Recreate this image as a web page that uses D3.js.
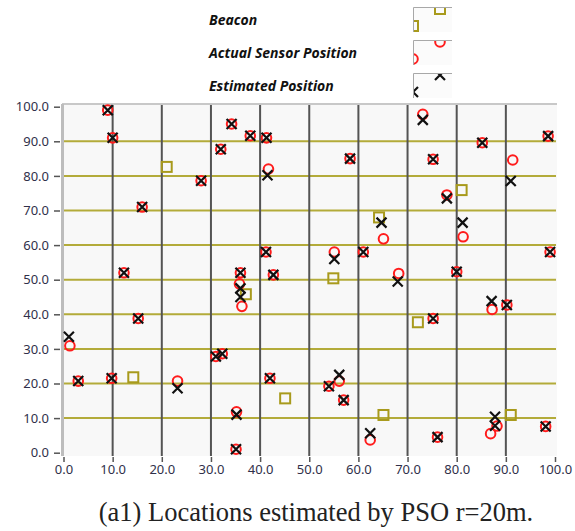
<!DOCTYPE html>
<html>
<head>
<meta charset="utf-8">
<script src="https://cdn.jsdelivr.net/npm/d3@7"></script>
<style>
  body { margin: 0; background: #fff; }
  svg { display: block; }
</style>
</head>
<body>
<svg id="chart" width="575" height="531"></svg>
<script>
// beacon positions
const beaconX = [21, 81, 64.2, 54.9, 37.1, 72.1, 14.2, 45.1, 65.1, 91];
const beaconY = [82.6, 75.9, 68, 50.4, 45.8, 37.7, 21.8, 15.7, 10.9, 10.9];

// actual sensor positions
const sensorX = [9, 10, 16, 12.3, 28, 32, 34.2, 38, 41.3, 41.7, 58.3, 41.2, 42.7, 36, 55.1, 61, 65.1,
  73.1, 85.2, 75.2, 98.6, 91.4, 78, 81.3, 99, 80, 68.2, 1.3, 3, 9.8, 15.2, 23.2, 31, 32.3,
  35.8, 36.3, 42, 35.2, 35.1, 54, 56.1, 57, 62.4, 75.2, 87.2, 90.2, 76.1, 88.2, 86.9, 98.1];
const sensorY = [99, 91, 71, 52, 78.6, 87.7, 95, 91.6, 91, 82, 85, 58, 51.4, 52, 58, 58, 61.8,
  97.8, 89.6, 84.8, 91.5, 84.6, 74.5, 62.4, 58, 52.3, 51.8, 30.9, 20.7, 21.5, 38.8, 20.7, 27.8, 28.6,
  48.8, 42.3, 21.5, 11.8, 1, 19.2, 20.7, 15.2, 3.7, 38.8, 41.4, 42.7, 4.5, 7.7, 5.5, 7.6];

// estimated positions (PSO)
const estX = [9, 10, 16, 12.3, 28, 32, 34.2, 38, 41.3, 41.5, 58.3, 41.2, 42.7, 36, 55.1, 61, 64.7,
  73.1, 85.2, 75.2, 98.6, 91, 78, 81.2, 99, 80, 68, 1.1, 3, 9.8, 15.2, 23.2, 31, 32.3,
  36, 36, 42, 35.2, 35.1, 54, 56.1, 57, 62.4, 75.2, 87.1, 90.2, 76.1, 87.8, 87.8, 98.1];
const estY = [99, 91, 71, 52, 78.6, 87.7, 95, 91.6, 91, 80.2, 85, 58, 51.4, 52, 56, 58, 66.5,
  96.2, 89.6, 84.8, 91.5, 78.5, 73.5, 66.5, 58, 52.3, 49.5, 33.5, 20.7, 21.5, 38.8, 18.6, 27.8, 28.6,
  47.5, 45, 21.5, 11, 1, 19.2, 22.5, 15.2, 5.6, 38.8, 43.8, 42.7, 4.5, 10.4, 7.8, 7.6];

const ticks = d3.range(0, 101, 10);
const legendLabels = ["Beacon", "Actual Sensor Position", "Estimated Position"];

const olive = "#a89a1c";
const gridOlive = "#b3ab3a";
const red = "#ff1c1c";
const labelColor = "#30304a";

const svg = d3.select("#chart");

const x = d3.scaleLinear().domain([0, 100]).range([63.5, 555]);
const y = d3.scaleLinear().domain([0, 100]).range([452.7, 106.7]);

// plot background
svg.append("rect")
  .attr("x", 62).attr("y", 104)
  .attr("width", 495).attr("height", 352)
  .attr("fill", "#f8f8f8");

// horizontal grid (olive)
svg.append("g").selectAll("line")
  .data(ticks.filter(t => t > 0 && t < 100))
  .join("line")
  .attr("x1", 63).attr("x2", 556)
  .attr("y1", d => y(d)).attr("y2", d => y(d))
  .attr("stroke", gridOlive).attr("stroke-width", 2);

// vertical grid (dark gray)
svg.append("g").selectAll("line")
  .data(ticks.filter(t => t > 0 && t < 100))
  .join("line")
  .attr("x1", d => x(d)).attr("x2", d => x(d))
  .attr("y1", 104).attr("y2", 456)
  .attr("stroke", "#545454").attr("stroke-width", 2);

// frame: top and left
svg.append("line").attr("x1", 62).attr("x2", 557).attr("y1", 104).attr("y2", 104)
  .attr("stroke", "#c8c8c8").attr("stroke-width", 2);
svg.append("line").attr("x1", 62.5).attr("x2", 62.5).attr("y1", 104).attr("y2", 456)
  .attr("stroke", "#bdbdbd").attr("stroke-width", 3);

// axes
const yAxis = d3.axisLeft(y).tickValues(ticks).tickFormat(d3.format(".1f")).tickSize(6).tickPadding(5);
const xAxis = d3.axisBottom(x).tickValues(ticks).tickFormat(d3.format(".1f")).tickSize(5).tickPadding(3);

const gy = svg.append("g").attr("transform", "translate(60,0)").call(yAxis);
const gx = svg.append("g").attr("transform", "translate(0,457)").call(xAxis);
[gy, gx].forEach(g => {
  g.select(".domain").remove();
  g.selectAll(".tick line").attr("stroke", "#555").attr("stroke-width", 1.5);
  g.selectAll(".tick text")
    .attr("fill", labelColor)
    .style("font-family", "'Noto Sans', sans-serif")
    .style("font-size", "13px");
});

// markers
const plot = svg.append("g");

plot.selectAll("rect.beacon")
  .data(beaconX.map((d, i) => [d, beaconY[i]]))
  .join("rect")
  .attr("class", "beacon")
  .attr("x", d => x(d[0]) - 5).attr("y", d => y(d[1]) - 5)
  .attr("width", 10).attr("height", 10)
  .attr("fill", "none").attr("stroke", olive).attr("stroke-width", 2);

plot.selectAll("circle.sensor")
  .data(sensorX.map((d, i) => [d, sensorY[i]]))
  .join("circle")
  .attr("class", "sensor")
  .attr("cx", d => x(d[0])).attr("cy", d => y(d[1]))
  .attr("r", 4.8)
  .attr("fill", "none").attr("stroke", red).attr("stroke-width", 2);

const cross = (g, s) => g.append("path")
  .attr("d", `M${-s},${-s}L${s},${s}M${-s},${s}L${s},${-s}`)
  .attr("stroke", "#111").attr("stroke-width", 2.2).attr("fill", "none");

plot.selectAll("g.est")
  .data(estX.map((d, i) => [d, estY[i]]))
  .join("g")
  .attr("class", "est")
  .attr("transform", d => `translate(${x(d[0])},${y(d[1])})`)
  .each(function () { cross(d3.select(this), 5); });

// legend
const legend = svg.append("g");
legendLabels.forEach((label, i) => {
  const top = 7 + i * 33;
  legend.append("text")
    .attr("x", 209).attr("y", top + 18)
    .text(label)
    .style("font-family", "'Noto Sans', sans-serif")
    .style("font-size", "14px")
    .style("font-weight", "bold")
    .style("font-style", "italic")
    .attr("fill", "#111");

  const clipId = "lc" + i;
  svg.append("clipPath").attr("id", clipId)
    .append("rect").attr("x", 414).attr("y", top + 1).attr("width", 38).attr("height", 24);
  const box = legend.append("g");
  box.append("rect").attr("x", 413).attr("y", top).attr("width", 39).attr("height", 25)
    .attr("fill", "#fbfbfb");
  box.append("path").attr("d", `M413.5,${top + 25}V${top + 0.5}H452`)
    .attr("stroke", "#a8a8a8").attr("fill", "none");
  const m = box.append("g").attr("clip-path", `url(#${clipId})`);
  [[440, top + 2], [413, top + 19]].forEach(([cx, cy]) => {
    if (i === 0) {
      m.append("rect").attr("x", cx - 5).attr("y", cy - 5).attr("width", 10).attr("height", 10)
        .attr("fill", "none").attr("stroke", olive).attr("stroke-width", 2);
    } else if (i === 1) {
      m.append("circle").attr("cx", cx).attr("cy", cy).attr("r", 4.8)
        .attr("fill", "none").attr("stroke", red).attr("stroke-width", 2);
    } else {
      cross(m.append("g").attr("transform", `translate(${cx},${cy})`), 5);
    }
  });
});

// caption
svg.append("text")
  .attr("x", 316).attr("y", 521)
  .attr("text-anchor", "middle")
  .text("(a1) Locations estimated by PSO r=20m.")
  .style("font-family", "'Liberation Serif', serif")
  .style("font-size", "26.5px")
  .attr("fill", "#222");
</script>
</body>
</html>
